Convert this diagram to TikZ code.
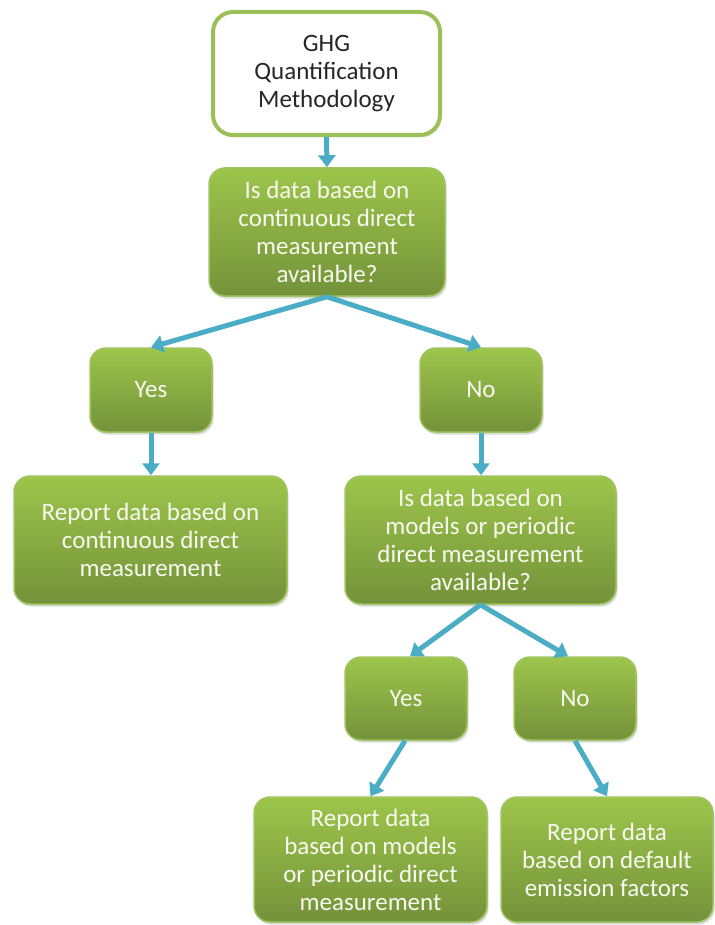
\documentclass[tikz,border=0pt]{standalone}
\usepackage{fontspec}
\setmainfont{Carlito}
\usetikzlibrary{arrows.meta,shadows}
\definecolor{gtop}{RGB}{157,197,75}
\definecolor{gbot}{RGB}{116,146,58}
\definecolor{gedge}{RGB}{160,196,95}
\definecolor{gline}{RGB}{155,192,90}
\definecolor{arr}{RGB}{75,172,198}
\definecolor{wtext}{RGB}{246,250,240}
\begin{document}
\begin{tikzpicture}[x=1pt,y=-1pt,
  gbox/.style={rectangle, rounded corners=16pt, top color=gtop, bottom color=gbot,
    draw=gedge, line width=1.5pt, text=wtext, align=center, inner sep=0pt,
    font=\fontsize{25}{28}\selectfont,
    drop shadow={shadow xshift=1.5pt, shadow yshift=-2.5pt, opacity=0.3}},
  wbox/.style={rectangle, rounded corners=20pt, fill=white, draw=gline, line width=4pt,
    text=black!85, align=center, inner sep=0pt, font=\fontsize{25}{28}\selectfont,
    drop shadow={shadow xshift=1.5pt, shadow yshift=-2.5pt, opacity=0.25}},
  conn/.style={draw=arr, line width=5pt, -{Triangle[length=12pt,width=17pt]}}]
\useasboundingbox (0,0) rectangle (714,925);
\node[wbox, minimum width=227pt, minimum height=123pt] (top) at (326.5,73.5) {GHG\\Quantification\\Methodology};
\node[gbox, minimum width=236pt, minimum height=128pt] (q1) at (327,232) {Is data based on\\continuous direct\\measurement\\available?};
\node[gbox, minimum width=122pt, minimum height=84pt] (yes1) at (151,390) {Yes};
\node[gbox, minimum width=122pt, minimum height=84pt] (no1) at (481,390) {No};
\node[gbox, minimum width=273pt, minimum height=128pt] (rep1) at (150.5,540) {Report data based on\\continuous direct\\measurement};
\node[gbox, minimum width=271pt, minimum height=128pt] (q2) at (480.5,540) {Is data based on\\models or periodic\\direct measurement\\available?};
\node[gbox, minimum width=122pt, minimum height=83pt] (yes2) at (406,698.5) {Yes};
\node[gbox, minimum width=122pt, minimum height=83pt] (no2) at (575,698.5) {No};
\node[gbox, minimum width=233pt, minimum height=125pt] (rep2) at (370.5,859.5) {Report data\\based on models\\or periodic direct\\measurement};
\node[gbox, minimum width=212pt, minimum height=125pt] (rep3) at (607,859.5) {Report data\\based on default\\emission factors};
\draw[conn] (top.south) -- (q1.north);
\draw[conn] (q1.south) -- (yes1.north);
\draw[conn] (q1.south) -- (no1.north);
\draw[conn] (yes1.south) -- (rep1.north -| yes1.south);
\draw[conn] (no1.south) -- (q2.north -| no1.south);
\draw[conn] (q2.south) -- ([xshift=4pt]yes2.north);
\draw[conn] (q2.south) -- ([xshift=-7pt]no2.north);
\draw[conn] ([xshift=-1pt]yes2.south) -- (rep2.north);
\draw[conn] (no2.south) -- (rep3.north);
\end{tikzpicture}
\end{document}
